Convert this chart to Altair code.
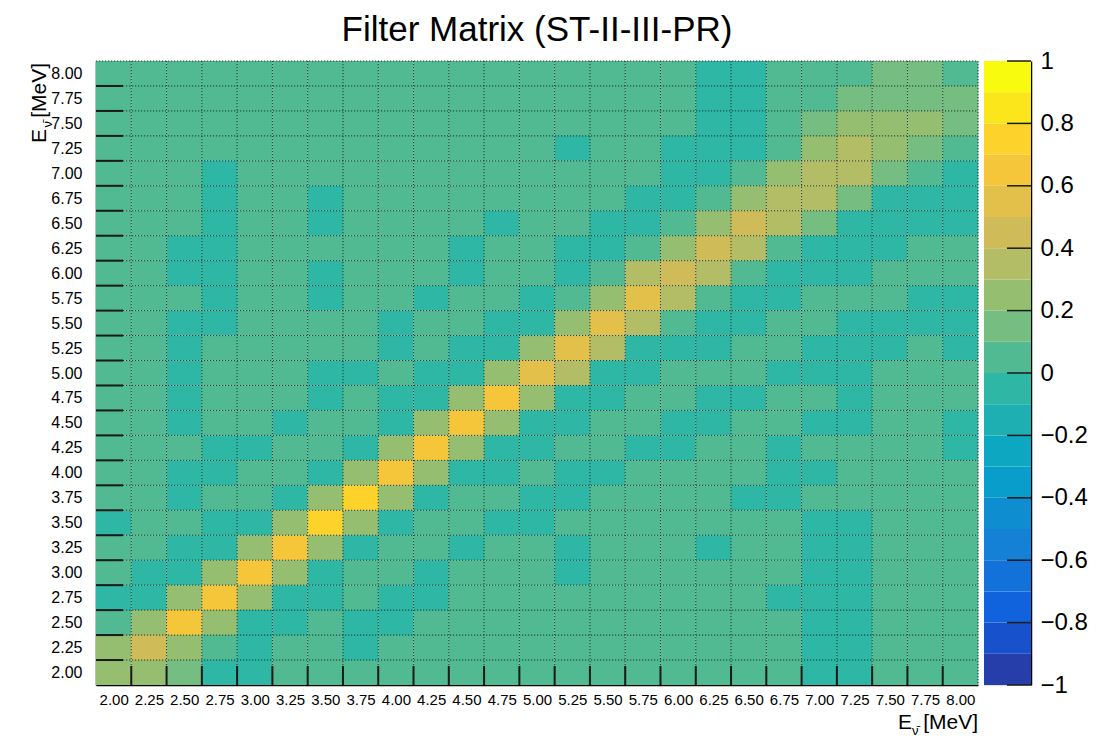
import altair as alt
import pandas as pd

# ---- data ----
x_centers = [2.00, 2.25, 2.50, 2.75, 3.00, 3.25, 3.50, 3.75, 4.00, 4.25, 4.50, 4.75, 5.00,
             5.25, 5.50, 5.75, 6.00, 6.25, 6.50, 6.75, 7.00, 7.25, 7.50, 7.75, 8.00]
y_centers_top_down = [8.00, 7.75, 7.50, 7.25, 7.00, 6.75, 6.50, 6.25, 6.00, 5.75, 5.50, 5.25, 5.00,
                      4.75, 4.50, 4.25, 4.00, 3.75, 3.50, 3.25, 3.00, 2.75, 2.50, 2.25, 2.00]

row_800 = [.05,.05,.05,.05,.05,.05,.05,.05,.05,.05,.05,.05,.05,.05,.05,.05,.05,-.05,-.05,.05,.05,.05,.15,.15,.05]
row_775 = [.05,.05,.05,.05,.05,.05,.05,.05,.05,.05,.05,.05,.05,.05,.05,.05,.05,-.05,-.05,.05,.05,.15,.15,.15,.15]
row_750 = [.05,.05,.05,.05,.05,.05,.05,.05,.05,.05,.05,.05,.05,.05,.05,.05,.05,-.05,-.05,.05,.15,.25,.25,.25,.15]
row_725 = [.05,.05,.05,.05,.05,.05,.05,.05,.05,.05,.05,.05,.05,-.05,.05,.05,-.05,-.05,-.05,.05,.25,.35,.25,.15,.05]
row_700 = [.05,.05,.05,-.05,.05,.05,.05,.05,.05,.05,.05,.05,.05,.05,.05,.05,-.05,-.05,.05,.25,.35,.35,.15,.05,-.05]
row_675 = [.05,.05,.05,-.05,.05,.05,-.05,.05,.05,.05,.05,.05,.05,.05,.05,-.05,-.05,.05,.25,.35,.35,.15,-.05,-.05,-.05]
row_650 = [.05,.05,.05,-.05,.05,.05,-.05,.05,.05,.05,.05,-.05,.05,.05,-.05,-.05,.05,.25,.45,.35,.15,-.05,-.05,-.05,-.05]
row_625 = [.05,.05,-.05,-.05,.05,.05,.05,.05,.05,.05,-.05,.05,.05,-.05,-.05,.05,.25,.45,.35,.05,-.05,-.05,-.05,.05,.05]
row_600 = [.05,.05,-.05,-.05,.05,.05,-.05,.05,.05,.05,-.05,.05,.05,-.05,.05,.35,.45,.35,.05,-.05,-.05,-.05,.05,.05,.05]
row_575 = [.05,.05,.05,-.05,.05,.05,-.05,.05,.05,-.05,.05,.05,-.05,.05,.25,.55,.35,.05,-.05,-.05,.05,.05,.05,-.05,-.05]
row_550 = [.05,.05,-.05,-.05,.05,.05,.05,.05,-.05,.05,.05,-.05,-.05,.25,.55,.35,.05,-.05,-.05,.05,.05,-.05,-.05,-.05,-.05]
row_525 = [.05,.05,-.05,.05,.05,.05,.05,.05,-.05,.05,-.05,-.05,.25,.55,.35,-.05,-.05,-.05,.05,.05,-.05,-.05,-.05,.05,-.05]
row_500 = [.05,.05,-.05,.05,.05,.05,-.05,-.05,.05,-.05,-.05,.25,.55,.35,-.05,-.05,.05,.05,.05,-.05,-.05,-.05,.05,.05,.05]
row_475 = [.05,.05,-.05,.05,.05,.05,-.05,.05,-.05,-.05,.25,.65,.25,-.05,-.05,.05,.05,-.05,-.05,.05,.05,-.05,.05,.05,.05]
row_450 = [.05,.05,-.05,.05,.05,-.05,.05,.05,-.05,.25,.65,.25,-.05,-.05,.05,.05,-.05,-.05,.05,.05,-.05,-.05,.05,.05,-.05]
row_425 = [.05,.05,.05,-.05,-.05,.05,.05,-.05,.25,.65,.25,-.05,-.05,.05,.05,-.05,-.05,.05,.05,-.05,.05,.05,.05,.05,-.05]
row_400 = [.05,.05,-.05,-.05,.05,.05,-.05,.25,.65,.25,-.05,-.05,.05,-.05,-.05,.05,.05,.05,.05,-.05,-.05,.05,.05,.05,.05]
row_375 = [.05,.05,-.05,.05,.05,-.05,.25,.75,.25,-.05,.05,.05,-.05,-.05,.05,.05,.05,.05,-.05,-.05,.05,.05,.05,.05,.05]
row_350 = [-.05,.05,.05,-.05,-.05,.25,.75,.25,-.05,.05,.05,-.05,-.05,.05,.05,.05,.05,.05,.05,.05,-.05,-.05,.05,.05,.05]
row_325 = [.05,.05,-.05,-.05,.25,.65,.25,-.05,.05,.05,-.05,.05,.05,-.05,.05,.05,.05,-.05,.05,.05,-.05,-.05,.05,.05,.05]
row_300 = [.05,-.05,-.05,.25,.65,.25,-.05,.05,.05,-.05,.05,.05,.05,-.05,.05,.05,.05,.05,.05,.05,-.05,-.05,.05,.05,.05]
row_275 = [-.05,-.05,.25,.65,.25,-.05,-.05,.05,-.05,-.05,.05,.05,.05,.05,.05,.05,.05,.05,.05,-.05,-.05,-.05,.05,.05,.05]
row_250 = [.05,.25,.65,.25,-.05,-.05,.05,-.05,-.05,.05,.05,.05,.05,.05,.05,.05,.05,.05,.05,.05,-.05,-.05,.05,.05,.05]
row_225 = [.25,.45,.25,.05,-.05,.05,.05,-.05,.05,.05,.05,.05,.05,.05,.05,.05,.05,.05,.05,.05,-.05,-.05,.05,.05,.05]
row_200 = [.25,.25,.15,-.05,-.05,.05,.05,.05,.05,.05,.05,.05,.05,.05,.05,.05,.05,.05,.05,.05,-.05,-.05,.05,.05,.05]

rows_top_down = [row_800, row_775, row_750, row_725, row_700, row_675, row_650, row_625, row_600,
                 row_575, row_550, row_525, row_500, row_475, row_450, row_425, row_400, row_375,
                 row_350, row_325, row_300, row_275, row_250, row_225, row_200]

colorbar_ticks = [-1, -0.8, -0.6, -0.4, -0.2, 0, 0.2, 0.4, 0.6, 0.8, 1]
colorbar_lo = [-1.0, -0.9, -0.8, -0.7, -0.6, -0.5, -0.4, -0.3, -0.2, -0.1,
               0.0, 0.1, 0.2, 0.3, 0.4, 0.5, 0.6, 0.7, 0.8, 0.9]

# ---- ROOT kBird palette, 20 contour colours ----
stops = [0.0, 0.125, 0.25, 0.375, 0.5, 0.625, 0.75, 0.875, 1.0]
red = [0.2082, 0.0592, 0.0780, 0.0232, 0.1802, 0.5301, 0.8186, 0.9956, 0.9764]
green = [0.1664, 0.3599, 0.5041, 0.6419, 0.7178, 0.7492, 0.7328, 0.7862, 0.9832]
blue = [0.5293, 0.8684, 0.8385, 0.7914, 0.6425, 0.4662, 0.3499, 0.1968, 0.0539]


def bird(f):
    f = min(max(f, 0.0), 1.0)
    for k in range(len(stops) - 1):
        if stops[k] <= f <= stops[k + 1]:
            t = (f - stops[k]) / (stops[k + 1] - stops[k])
            c = [a + t * (b - a) for a, b in ((red[k], red[k + 1]), (green[k], green[k + 1]), (blue[k], blue[k + 1]))]
            return "#%02x%02x%02x" % tuple(int(round(v * 255)) for v in c)
    return "#000000"


palette = [bird((i + 0.99) / 20) for i in range(20)]
thresholds = [round(-0.9 + 0.1 * i, 2) for i in range(19)]
cscale = alt.Scale(type="threshold", domain=thresholds, range=palette)

# ---- tables ----
half = 0.125
recs = []
for yv, row in zip(y_centers_top_down, rows_top_down):
    for xv, z in zip(x_centers, row):
        recs.append({"x": xv, "y": yv, "z": z, "x0": xv - half, "x1": xv + half,
                     "y0": yv - half, "y1": yv + half})
cells = pd.DataFrame(recs)
edges_inner = [round(c + half, 3) for c in x_centers[:-1]]
edges_grid = pd.DataFrame({"e": edges_inner + [x_centers[-1] + half]})
edges_tick = pd.DataFrame({"e": edges_inner})

W, H = 882, 624
FONT = "Liberation Sans, Arial, Helvetica, sans-serif"
dom = [x_centers[0] - half, x_centers[-1] + half]
xs = alt.Scale(domain=dom, nice=False, zero=False)
ys = alt.Scale(domain=dom, nice=False, zero=False)

xaxis = alt.Axis(values=x_centers, format=".2f", ticks=False, grid=False, domainColor="#000",
                 domainWidth=1.5, labelFont=FONT, labelFontSize=15, labelColor="#000", labelPadding=7,
                 labelOverlap=False, labelFlush=False, title=None)
yaxis = alt.Axis(values=x_centers, format=".2f", ticks=False, grid=False, domainColor="#000",
                 domainWidth=1.5, labelFont=FONT, labelFontSize=16, labelColor="#000", labelPadding=14,
                 labelOverlap=False, labelFlush=False, title=None)

heat = alt.Chart(cells).mark_rect().encode(
    x=alt.X("x0:Q", scale=xs, axis=xaxis, title=None),
    x2="x1:Q",
    y=alt.Y("y0:Q", scale=ys, axis=yaxis, title=None),
    y2="y1:Q",
    color=alt.Color("z:Q", scale=cscale, legend=None),
)

GRID = dict(color="#0d1f17", strokeWidth=1, strokeDash=[1.2, 1.8], opacity=0.85)
gridx = alt.Chart(edges_grid).mark_rule(**GRID).encode(
    x=alt.X("e:Q", scale=xs, axis=xaxis, title=None), y=alt.value(0), y2=alt.value(H))
gridy = alt.Chart(edges_grid).mark_rule(**GRID).encode(
    y=alt.Y("e:Q", scale=ys, axis=yaxis, title=None), x=alt.value(0), x2=alt.value(W))
tickx = alt.Chart(edges_tick).mark_rule(color="#1a1a1a", strokeWidth=2).encode(
    x=alt.X("e:Q", scale=xs, axis=xaxis, title=None), y=alt.value(H), y2=alt.value(H - 19))
ticky = alt.Chart(edges_tick).mark_rule(color="#1a1a1a", strokeWidth=2).encode(
    y=alt.Y("e:Q", scale=ys, axis=yaxis, title=None), x=alt.value(0), x2=alt.value(27))

one = pd.DataFrame({"a": [0]})
TS, SS = 21, 13
xt_u = alt.Chart(one).mark_text(text="[MeV]", font=FONT, fontSize=TS, align="right", baseline="alphabetic").encode(
    x=alt.value(W), y=alt.value(H + 44))
xt_nu = alt.Chart(one).mark_text(text="ν\u0304", font=FONT, fontSize=SS, align="left", baseline="alphabetic").encode(
    x=alt.value(W - 66), y=alt.value(H + 50))
xt_E = alt.Chart(one).mark_text(text="E", font=FONT, fontSize=TS, align="right", baseline="alphabetic").encode(
    x=alt.value(W - 66), y=alt.value(H + 44))
yt_u = alt.Chart(one).mark_text(text="[MeV]", font=FONT, fontSize=TS, align="right", baseline="alphabetic",
                                angle=270).encode(x=alt.value(-50), y=alt.value(2))
yt_nu = alt.Chart(one).mark_text(text="ν\u0304", font=FONT, fontSize=SS, align="right", baseline="alphabetic",
                                 angle=270).encode(x=alt.value(-44), y=alt.value(60))
yt_E = alt.Chart(one).mark_text(text="E", font=FONT, fontSize=TS, align="right", baseline="alphabetic",
                                angle=270).encode(x=alt.value(-50), y=alt.value(68))

main = alt.layer(heat, gridx, gridy, tickx, ticky, xt_E, xt_nu, xt_u, yt_u, yt_nu, yt_E).properties(
    width=W, height=H,
    title=alt.TitleParams("Filter Matrix (ST-II-III-PR)", fontSize=35, font=FONT,
                          fontWeight="normal", color="#000", anchor="middle", offset=13),
)

# ---- colour bar ----
cb = pd.DataFrame({"lo": colorbar_lo, "hi": [round(v + 0.1, 2) for v in colorbar_lo],
                   "mid": [round(v + 0.05, 3) for v in colorbar_lo]})
CBW = 47
cbs = alt.Scale(domain=[-1, 1], nice=False, zero=False)
cbaxis = alt.Axis(orient="right", values=colorbar_ticks, format="~g", ticks=False, grid=False,
                  domainColor="#000", domainWidth=1.5, labelFont=FONT, labelFontSize=24,
                  labelColor="#000", labelPadding=9, labelOverlap=False, labelFlush=False, title=None)
cbar = alt.Chart(cb).mark_rect().encode(
    y=alt.Y("lo:Q", scale=cbs, axis=cbaxis, title=None),
    y2="hi:Q",
    x=alt.value(0), x2=alt.value(CBW),
    color=alt.Color("mid:Q", scale=cscale, legend=None),
)
cbt = alt.Chart(pd.DataFrame({"t": colorbar_ticks})).mark_rule(color="#1a1a1a", strokeWidth=1.5).encode(
    y=alt.Y("t:Q", scale=cbs, axis=cbaxis, title=None), x=alt.value(23), x2=alt.value(CBW))
colorbar = alt.layer(cbar, cbt).properties(width=CBW, height=H)

chart = alt.hconcat(main, colorbar, spacing=6, bounds="flush").properties(
    padding={"left": 20, "top": 4, "right": 0, "bottom": 2}
).configure_view(stroke="#c4c4c4", strokeWidth=1).configure(background="white")

chart.save("out.html", embed_options={"renderer": "svg", "actions": False})
